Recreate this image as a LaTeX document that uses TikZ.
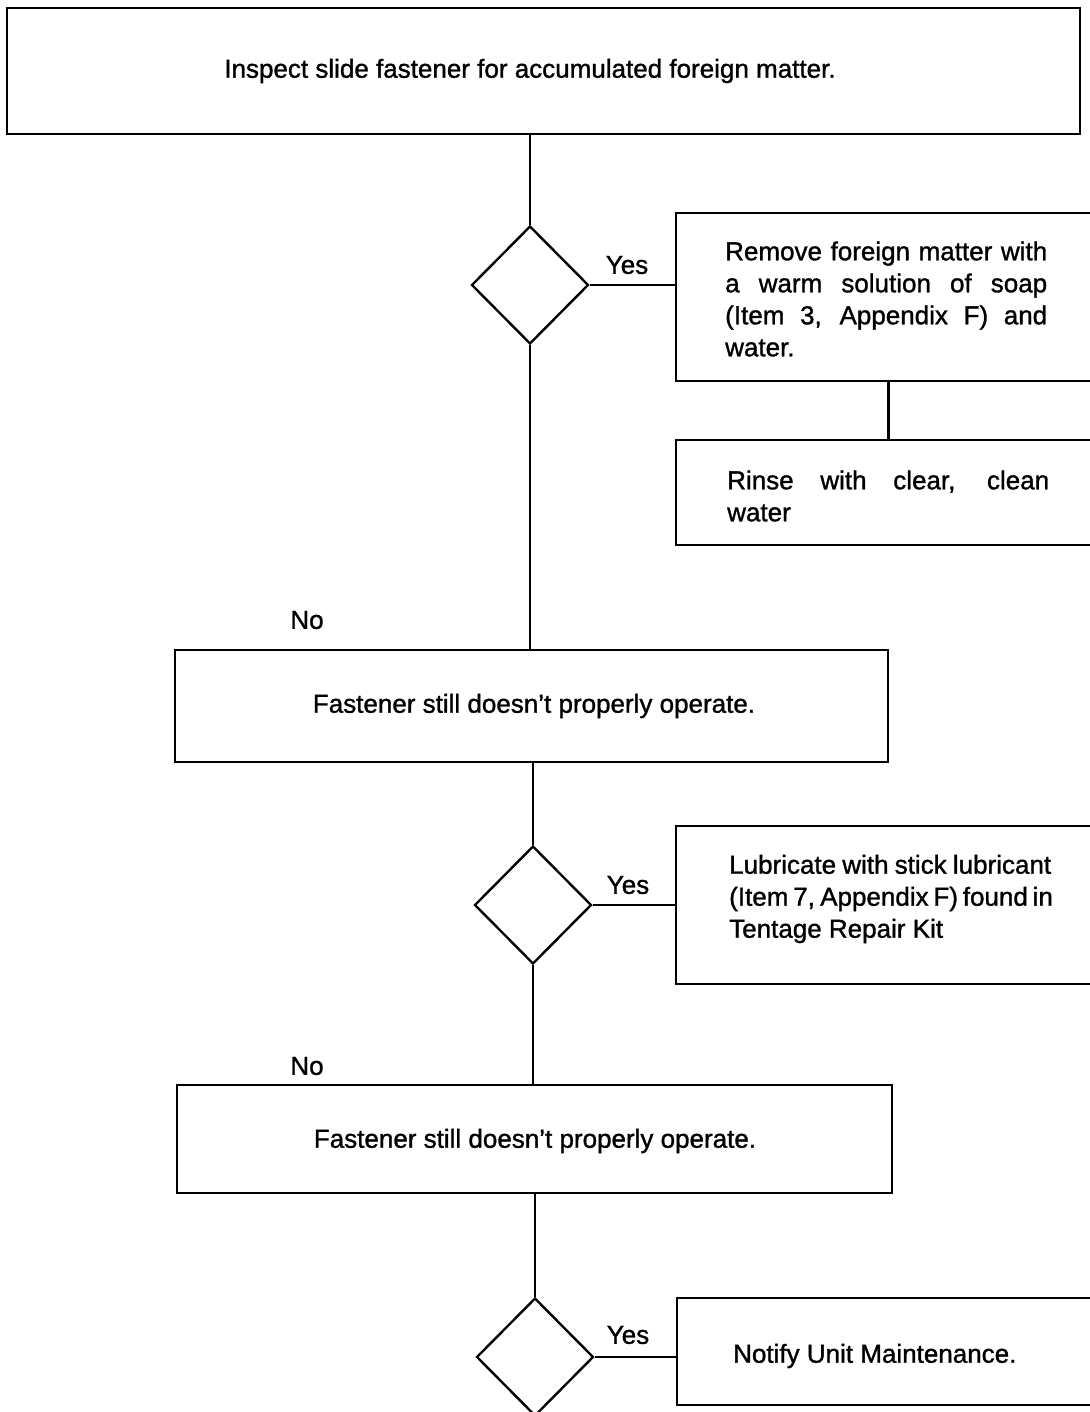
\documentclass[tikz,border=0pt]{standalone}
\usepackage{fontspec}
\setmainfont{Liberation Sans}[FakeBold=1.2,Ligatures=TeX]
\usetikzlibrary{shapes.geometric,calc}
\newcommand{\jline}[1]{\makebox[322pt][s]{#1}}
\begin{document}
\begin{tikzpicture}[x=1pt,y=-1pt,
  every node/.style={font=\fontsize{26}{32}\selectfont},
  box/.style={draw,line width=2.6pt,rectangle,inner sep=0pt},
  dec/.style={draw,line width=2.4pt,diamond,aspect=1,inner sep=0pt,minimum width=117pt,minimum height=118pt},
  conn/.style={line width=2.6pt},
  txt/.style={inner sep=0pt,align=left,anchor=west},
  lbl/.style={inner sep=0pt}]
\useasboundingbox (0,0) rectangle (1089,1412);
% boxes
\node[box,minimum width=1073pt,minimum height=126pt] (top) at (543.5,71) {};
\node[lbl] (toptxt) at (530,71) {Inspect slide fastener for accumulated foreign matter.};
\node[dec] (d1) at (530,285) {};
\node[box,minimum width=434pt,minimum height=168pt] (b2) at (893,297) {};
\node[txt] (b2txt) at (725,299) {\jline{Remove foreign matter with}\\ \jline{a warm solution of soap}\\ \jline{(Item 3, Appendix F) and}\\ water.};
\node[box,minimum width=434pt,minimum height=105pt] (b3) at (893,492.5) {};
\node[txt] (b3txt) at (727,496) {\jline{Rinse with clear, clean}\\ water};
\node[box,minimum width=713pt,minimum height=112pt] (b4) at (531.5,706) {};
\node[lbl] (b4txt) at (534,706) {Fastener still doesn’t properly operate.};
\node[dec] (d2) at (533,905) {};
\node[box,minimum width=434pt,minimum height=158pt] (b5) at (893,905) {};
\node[txt] (b5txt) at (729,899) {\jline{Lubricate with stick lubricant}\\ \jline{(Item 7, Appendix F) found in}\\ Tentage Repair Kit};
\node[box,minimum width=715pt,minimum height=108pt] (b6) at (534.5,1139) {};
\node[lbl] (b6txt) at (535,1141) {Fastener still doesn’t properly operate.};
\node[dec] (d3) at (535,1357) {};
\node[box,minimum width=433pt,minimum height=107pt] (b7) at (893.5,1351.5) {};
\node[txt] (b7txt) at (733,1356) {Notify Unit Maintenance.};
% labels
\node[lbl] (y1) at (627,265) {Yes};
\node[lbl] (y2) at (628,885) {Yes};
\node[lbl] (y3) at (628,1335) {Yes};
\node[lbl] (n1) at (307,620) {No};
\node[lbl] (n2) at (307,1066) {No};
% connectors
\draw[conn] (d1.north |- top.south) -- (d1.north);
\draw[conn] (d1.east) -- (d1.east -| b2.west);
\draw[conn] ([xshift=214pt]b2.south west) -- ([xshift=214pt]b3.north west);
\draw[conn] (d1.south) -- (d1.south |- b4.north);
\draw[conn] (d2.north |- b4.south) -- (d2.north);
\draw[conn] (d2.east) -- (d2.east -| b5.west);
\draw[conn] (d2.south) -- (d2.south |- b6.north);
\draw[conn] (d3.north |- b6.south) -- (d3.north);
\draw[conn] (d3.east) -- (d3.east -| b7.west);
\end{tikzpicture}
\end{document}
